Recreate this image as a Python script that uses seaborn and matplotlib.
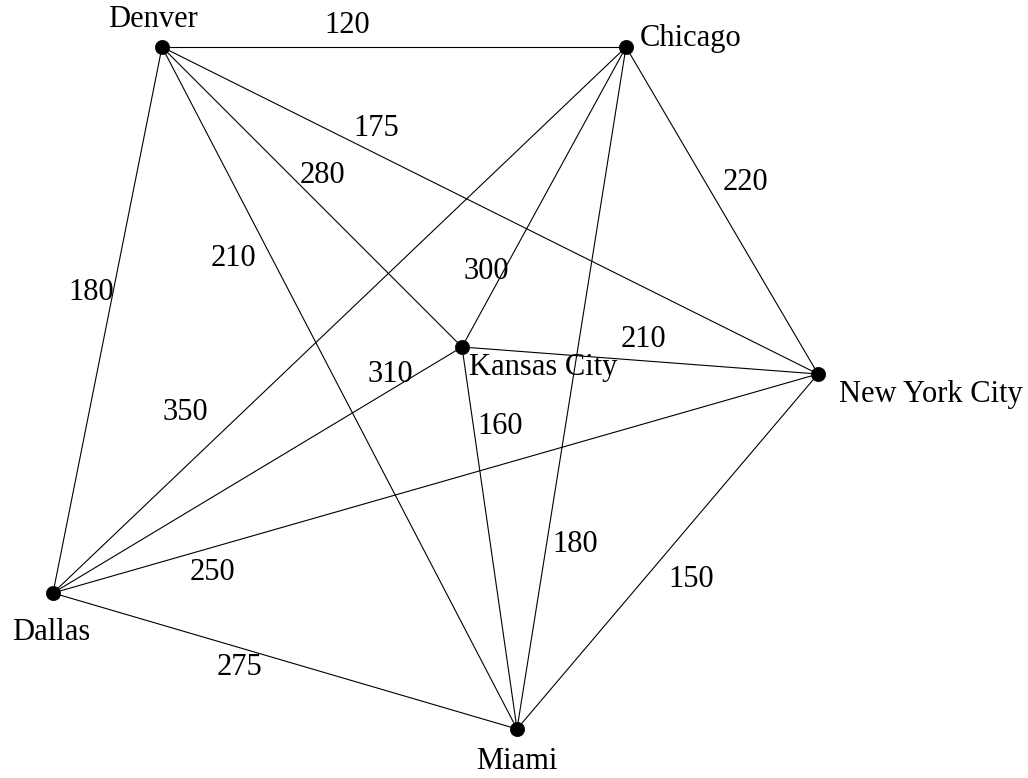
import matplotlib
matplotlib.use("Agg")
import matplotlib.pyplot as plt
import seaborn as sns
import pandas as pd

cities = ["Denver", "Chicago", "Kansas City", "New York City", "Dallas", "Miami"]
node_x = [162, 626, 462, 818, 53, 517]
node_y = [47, 47, 347, 374, 593, 729]

edge_from = ["Denver", "Denver", "Denver", "Denver", "Denver",
             "Chicago", "Chicago", "Chicago", "Chicago",
             "Kansas City", "Kansas City", "Kansas City",
             "New York City", "New York City", "Dallas"]
edge_to = ["Chicago", "New York City", "Kansas City", "Miami", "Dallas",
           "New York City", "Kansas City", "Dallas", "Miami",
           "New York City", "Dallas", "Miami",
           "Dallas", "Miami", "Miami"]
edge_weight = ["120", "175", "280", "210", "180",
               "220", "300", "350", "180",
               "210", "310", "160",
               "250", "150", "275"]
# label positions (center x, baseline y)
label_x = [347, 376, 322, 233, 91, 745, 486, 185, 575, 643, 390, 500, 212, 691, 239]
label_y = [33, 136, 183, 266, 300, 190, 279, 420, 552, 347, 382, 434, 580, 587, 675]

name_x = [153, 691, 543, 931, 51, 517]
name_y = [27, 46, 375, 402, 640, 769]

sns.set_theme(style="white")
plt.rcParams["font.family"] = ["Liberation Serif", "DejaVu Serif"]

fig = plt.figure(figsize=(10.28, 7.78), dpi=100)
ax = fig.add_axes([0, 0, 1, 1])

pos = dict(zip(cities, zip(node_x, node_y)))
for a, b in zip(edge_from, edge_to):
    ax.plot([pos[a][0], pos[b][0]], [pos[a][1], pos[b][1]], color="black", lw=0.8, zorder=1)

nodes = pd.DataFrame({"city": cities, "x": node_x, "y": node_y})
sns.scatterplot(data=nodes, x="x", y="y", color="black", s=105, edgecolor="black",
                linewidth=0.5, ax=ax, zorder=3, legend=False)

fs = 22
for t, x, y in zip(edge_weight, label_x, label_y):
    ax.text(x, y, t, fontsize=fs, ha="center", va="baseline", color="black")
for t, x, y in zip(cities, name_x, name_y):
    ax.text(x, y, t, fontsize=fs, ha="center", va="baseline", color="black")

ax.set_xlim(0, 1028)
ax.set_ylim(778, 0)
ax.set_axis_off()
fig.savefig("out.png", dpi=100, facecolor="white")
